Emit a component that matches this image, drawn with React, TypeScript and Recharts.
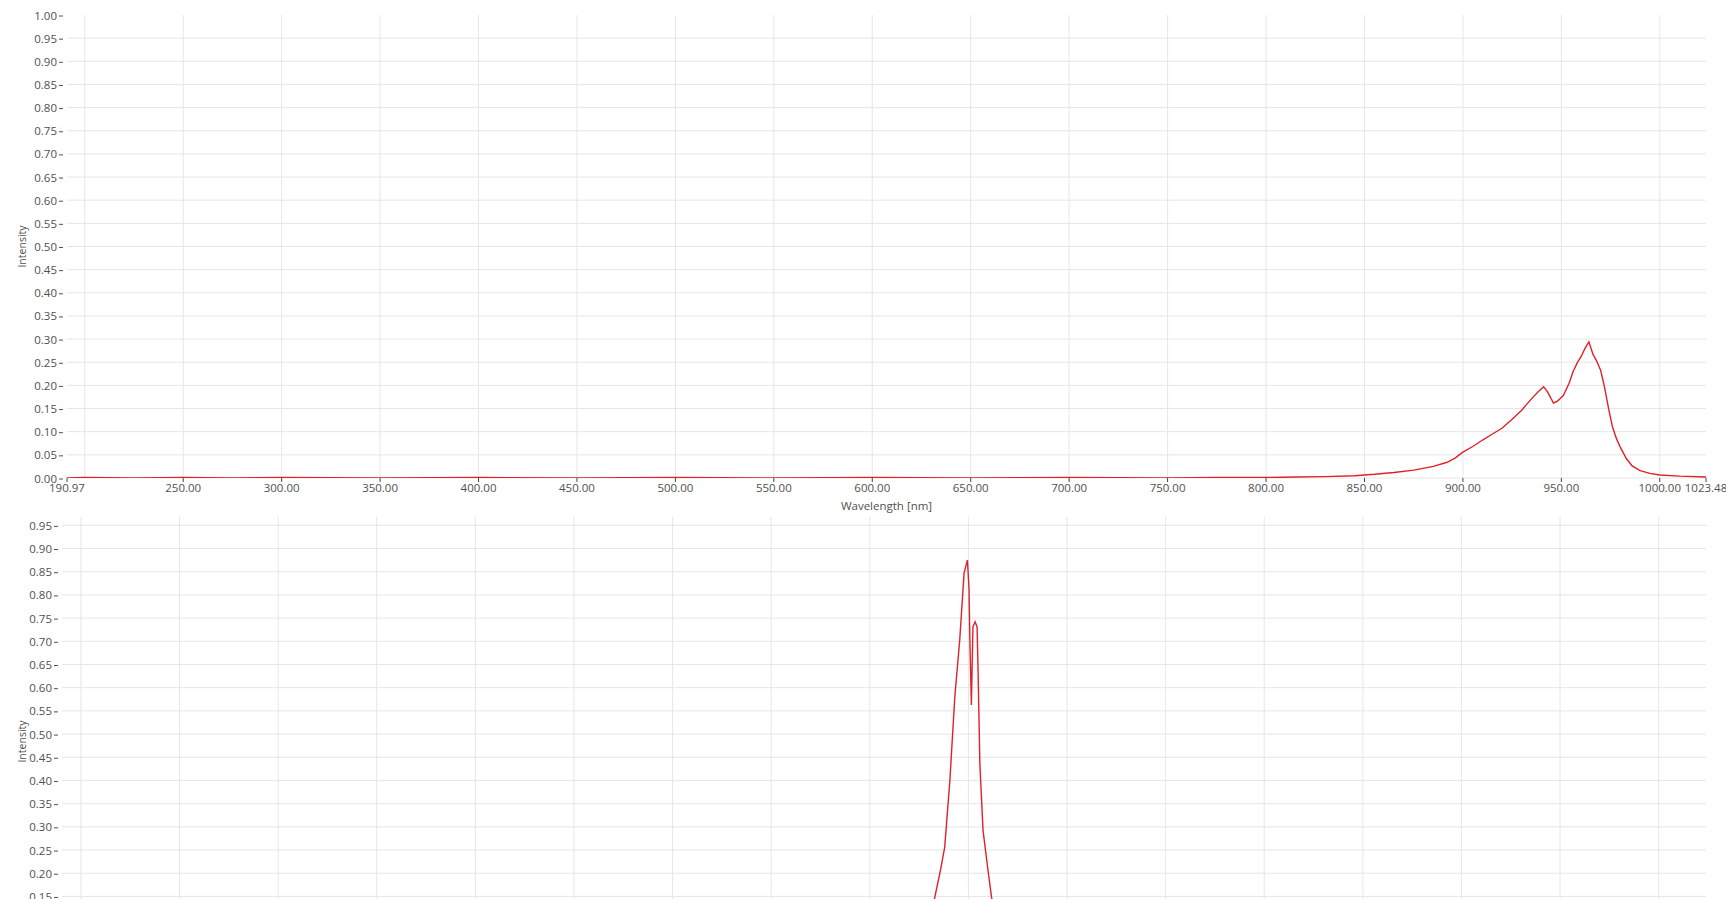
import { CartesianGrid, Line, LineChart, XAxis, YAxis } from "recharts";

const RED = "#e0202a";
const TEXT = "#505050";
const GRID = "#e6e6e6";
const FONT = "'Open Sans', sans-serif";

// shared axis ticks
const X_TICKS = [190.97, 250, 300, 350, 400, 450, 500, 550, 600, 650, 700, 750, 800, 850, 900, 950, 1000, 1023.48];
const GRID_X = [200, 250, 300, 350, 400, 450, 500, 550, 600, 650, 700, 750, 800, 850, 900, 950, 1000];
const Y_TICKS_TOP = [0, 0.05, 0.1, 0.15, 0.2, 0.25, 0.3, 0.35, 0.4, 0.45, 0.5, 0.55, 0.6, 0.65, 0.7, 0.75, 0.8, 0.85, 0.9, 0.95, 1.0];
const Y_TICKS_BOTTOM = [0, 0.05, 0.1, 0.15, 0.2, 0.25, 0.3, 0.35, 0.4, 0.45, 0.5, 0.55, 0.6, 0.65, 0.7, 0.75, 0.8, 0.85, 0.9, 0.95];

// upper spectrum (NIR band)
const TOP_WAVELENGTH = [
  190.97, 200, 225, 250, 275, 300, 350, 400, 450, 500, 550, 600, 650, 700, 750, 775, 800, 815, 830, 845,
  855, 865, 875, 885, 892, 896, 900, 905, 910, 915, 920, 925, 930, 935, 938, 941, 943, 946, 948, 951, 954,
  956, 958, 960, 962, 964, 966, 968, 970, 972, 974, 976, 978, 980, 983, 986, 990, 995, 1000, 1010, 1023.48
];
const TOP_INTENSITY = [
  0.0, 0.001, 0.0, 0.001, 0.0, 0.001, 0.0, 0.001, 0.0, 0.001, 0.0, 0.001, 0.0, 0.001, 0.0, 0.001, 0.001, 0.002, 0.003, 0.005,
  0.008, 0.012, 0.017, 0.025, 0.034, 0.043, 0.056, 0.068, 0.082, 0.095, 0.108, 0.127, 0.147, 0.172, 0.185, 0.197, 0.186, 0.162, 0.166, 0.178, 0.205,
  0.23, 0.248, 0.262, 0.28, 0.294, 0.268, 0.252, 0.232, 0.195, 0.15, 0.11, 0.085, 0.066, 0.042, 0.026, 0.016, 0.01, 0.0065, 0.004, 0.002
];

// lower spectrum (red laser line)
const BOTTOM_WAVELENGTH = [
  190.4, 300, 400, 500, 550, 600, 615, 625, 630, 633, 636, 638, 640.6, 643.1, 645.6, 647.8, 649.5, 650.3, 650.7, 651.5,
  652.3, 653.4, 654.4, 654.9, 655.8, 657.4, 659.5, 661.7, 665, 670, 680, 700, 800, 900, 1024
];
const BOTTOM_INTENSITY = [
  0.0, 0.001, 0.0, 0.001, 0.0, 0.002, 0.006, 0.03, 0.09, 0.149, 0.21, 0.257, 0.4, 0.58, 0.703, 0.847, 0.875, 0.814, 0.71, 0.5625,
  0.731, 0.742, 0.731, 0.638, 0.437, 0.293, 0.221, 0.149, 0.08, 0.03, 0.008, 0.002, 0.0, 0.001, 0.0
];

const topRows = TOP_WAVELENGTH.map((w, i) => ({ wavelength: w, intensity: TOP_INTENSITY[i] }));
const bottomRows = BOTTOM_WAVELENGTH.map((w, i) => ({ wavelength: w, intensity: BOTTOM_INTENSITY[i] }));

function YTick(props: any) {
  const { x, y, payload } = props;
  return (
    <g>
      <text x={x} y={y} textAnchor="end" dominantBaseline="central" fill={TEXT} fontSize={11.5} fontFamily={FONT}>
        {Number(payload.value).toFixed(2)}
      </text>
      <line x1={x + 2} y1={y + 1} x2={x + 6} y2={y + 1} stroke={TEXT} strokeWidth={1} />
    </g>
  );
}

function IntensityLabel(props: any) {
  const vb = props.viewBox || { x: 0, y: 0, height: 0 };
  const cx = vb.x + 22;
  const cy = vb.y + vb.height / 2;
  return (
    <text
      x={cx}
      y={cy}
      transform={`rotate(-90, ${cx}, ${cy})`}
      textAnchor="middle"
      dominantBaseline="central"
      fill={TEXT}
      fontSize={10.5}
      fontFamily={FONT}
    >
      Intensity
    </text>
  );
}

type PanelProps = {
  rows: { wavelength: number; intensity: number }[];
  top: number;
  height: number;
  yWidth: number;
  marginTop: number;
  xDomain: [number, number];
  yDomain: [number, number];
  yTicks: number[];
};

function SpectrumPanel({ rows, top, height, yWidth, marginTop, xDomain, yDomain, yTicks }: PanelProps) {
  return (
    <div style={{ position: "absolute", left: 0, top }}>
      <LineChart
        width={1726}
        height={height}
        data={rows}
        margin={{ top: marginTop, right: 20, left: 0, bottom: 0 }}
      >
        <CartesianGrid
          stroke={GRID}
          verticalValues={GRID_X}
          horizontalValues={yTicks.filter((v) => v < 0.999)}
        />
        <XAxis
          type="number"
          dataKey="wavelength"
          domain={xDomain}
          ticks={X_TICKS}
          interval={0}
          allowDataOverflow
          tickFormatter={(v) => Number(v).toFixed(2)}
          tick={{ fill: TEXT, fontSize: 11.5, fontFamily: FONT }}
          tickLine={{ stroke: "#444" }}
          tickSize={4}
          tickMargin={2}
          axisLine={false}
          height={52}
          label={{
            value: "Wavelength [nm]",
            position: "insideTop",
            offset: 24,
            fill: TEXT,
            fontSize: 11.5,
            fontFamily: FONT
          }}
        />
        <YAxis
          type="number"
          domain={yDomain}
          ticks={yTicks}
          interval={0}
          allowDataOverflow
          width={yWidth}
          tick={<YTick />}
          tickLine={false}
          axisLine={false}
          tickSize={0}
          tickMargin={10}
          label={<IntensityLabel />}
        />
        <Line
          type="linear"
          dataKey="intensity"
          stroke={RED}
          strokeWidth={1.4}
          dot={false}
          isAnimationActive={false}
        />
      </LineChart>
    </div>
  );
}

export default function App() {
  return (
    <div
      style={{
        position: "fixed",
        left: 0,
        top: 0,
        width: 1736,
        height: 899,
        overflow: "hidden",
        background: "#fff"
      }}
    >
      <SpectrumPanel
        rows={topRows}
        top={0}
        height={530}
        yWidth={67}
        marginTop={15}
        xDomain={[190.97, 1023.48]}
        yDomain={[0, 1]}
        yTicks={Y_TICKS_TOP}
      />
      <SpectrumPanel
        rows={bottomRows}
        top={512}
        height={506}
        yWidth={62}
        marginTop={5}
        xDomain={[190.4, 1024]}
        yDomain={[0, 0.968]}
        yTicks={Y_TICKS_BOTTOM}
      />
    </div>
  );
}
